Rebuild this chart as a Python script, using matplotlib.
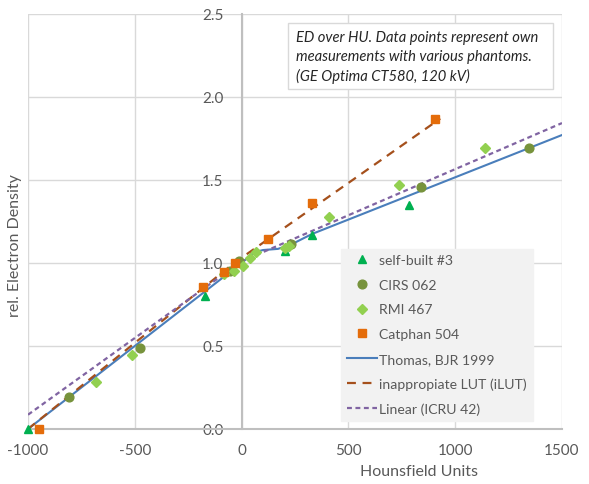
import matplotlib
matplotlib.use("Agg")
import matplotlib.pyplot as plt
from matplotlib.patches import Rectangle

plt.rcParams['font.family'] = ['Lato', 'DejaVu Sans']

# ---- data ----
self_hu = [-1000, -173, 201, 330, 786]
self_ed = [0.0, 0.80, 1.07, 1.17, 1.35]

cirs_hu = [-808, -477, -56, -14, 232, 840, 1345]
cirs_ed = [0.19, 0.49, 0.95, 1.01, 1.115, 1.456, 1.695]

rmi_hu = [-680, -512, -81, -37, 5, 41, 69, 205, 220, 408, 738, 1138]
rmi_ed = [0.285, 0.448, 0.934, 0.954, 0.984, 1.028, 1.064, 1.089, 1.104, 1.277, 1.472, 1.695]

cat_hu = [-949, -179, -84, -33, 124, 331, 907]
cat_ed = [0.0, 0.853, 0.944, 0.998, 1.145, 1.363, 1.867]

thomas_hu = [-1000, 0, 60, 100, 170, 230, 330, 1500]
thomas_ed = [0.0, 1.0, 1.065, 1.078, 1.085, 1.11, 1.175, 1.771]

ilut_hu = [-1000, -180, -35, 930]
ilut_ed = [0.0, 0.85, 1.0, 1.87]

icru_hu = [-1000, 0, 1500]
icru_ed = [0.086, 1.01, 1.843]

x_ticks = [-1000, -500, 0, 500, 1000, 1500]
y_ticks = [0.0, 0.5, 1.0, 1.5, 2.0, 2.5]

# ---- figure ----
W, H = 589, 485
fig = plt.figure(figsize=(W / 100, H / 100), dpi=100)
ax = fig.add_axes([28 / W, 1 - 430 / H, (562 - 28) / W, (430 - 15) / H])

gray_txt = '#595959'

l1, = ax.plot(thomas_hu, thomas_ed, color='#4A7EBB', lw=1.5, zorder=3,
              label='Thomas, BJR 1999')
l2, = ax.plot(ilut_hu, ilut_ed, color='#A5501C', lw=1.6, ls=(0, (4, 3)), zorder=3,
              label='inappropiate LUT (iLUT)')
l3, = ax.plot(icru_hu, icru_ed, color='#8064A2', lw=1.6, ls=(0, (2.2, 1.6)), zorder=3,
              label='Linear (ICRU 42)')

s1, = ax.plot(self_hu, self_ed, ls='none', marker='^', ms=6.2, color='#00B050',
              mec='#00B050', zorder=4, clip_on=False, label='self-built #3')
s2, = ax.plot(cirs_hu, cirs_ed, ls='none', marker='o', ms=6.3, color='#77933C',
              mec='#77933C', zorder=4, clip_on=False, label='CIRS 062')
s3, = ax.plot(rmi_hu, rmi_ed, ls='none', marker='D', ms=4.6, color='#92D050',
              mec='#92D050', zorder=4, clip_on=False, label='RMI 467')
s4, = ax.plot(cat_hu, cat_ed, ls='none', marker='s', ms=5.8, color='#E46C0A',
              mec='#E46C0A', zorder=5, clip_on=False, label='Catphan 504')

ax.set_xlim(-1000, 1500)
ax.set_ylim(0, 2.5)
ax.set_xticks(x_ticks)
ax.set_yticks(y_ticks)
ax.set_yticklabels([f'{v:.1f}' for v in y_ticks])
ax.set_xticklabels([str(v) for v in x_ticks])

ax.grid(True, color='#D9D9D9', lw=1.0, zorder=0)
ax.set_axisbelow(True)
for s in ['top', 'right']:
    ax.spines[s].set_visible(False)
ax.spines['left'].set_position(('data', 0))
ax.spines['left'].set_color('#BFBFBF')
ax.spines['left'].set_linewidth(1.5)
ax.spines['bottom'].set_color('#BFBFBF')
ax.spines['bottom'].set_linewidth(1.5)
ax.tick_params(axis='both', length=0, labelsize=11, labelcolor=gray_txt)
ax.tick_params(axis='x', pad=10)
ax.tick_params(axis='y', pad=13)

fig.text(419 / W, 1 - 472 / H, 'Hounsfield Units', ha='center', va='center',
         fontsize=11.5, color=gray_txt)
fig.text(15 / W, 1 - 246 / H, 'rel. Electron Density', ha='center', va='center',
         rotation=90, fontsize=11.5, color=gray_txt)

# annotation box
fig.patches.append(Rectangle((288 / W, 1 - 90 / H), (553 - 288) / W, (90 - 24) / H,
                             transform=fig.transFigure, fc='white', ec='#D9D9D9',
                             lw=1.0, zorder=6))
fig.text(296 / W, 1 - 31 / H,
         'ED over HU. Data points represent own\nmeasurements with various phantoms.\n(GE Optima CT580, 120 kV)',
         ha='left', va='top', fontsize=10.6, style='italic',
         color='#262626', linespacing=1.42, zorder=7)

leg = ax.legend(handles=[s1, s2, s3, s4, l1, l2, l3],
                loc='lower left', bbox_to_anchor=(0.587, 0.02),
                fontsize=10.1, labelcolor=gray_txt, frameon=True, fancybox=False,
                facecolor='#F2F2F2', edgecolor='#F2F2F2', framealpha=1,
                handlelength=2.1, handletextpad=0.2, labelspacing=0.9,
                borderpad=0.4, borderaxespad=0)
leg.set_zorder(7)

fig.savefig('out.png', dpi=100, facecolor='white')
